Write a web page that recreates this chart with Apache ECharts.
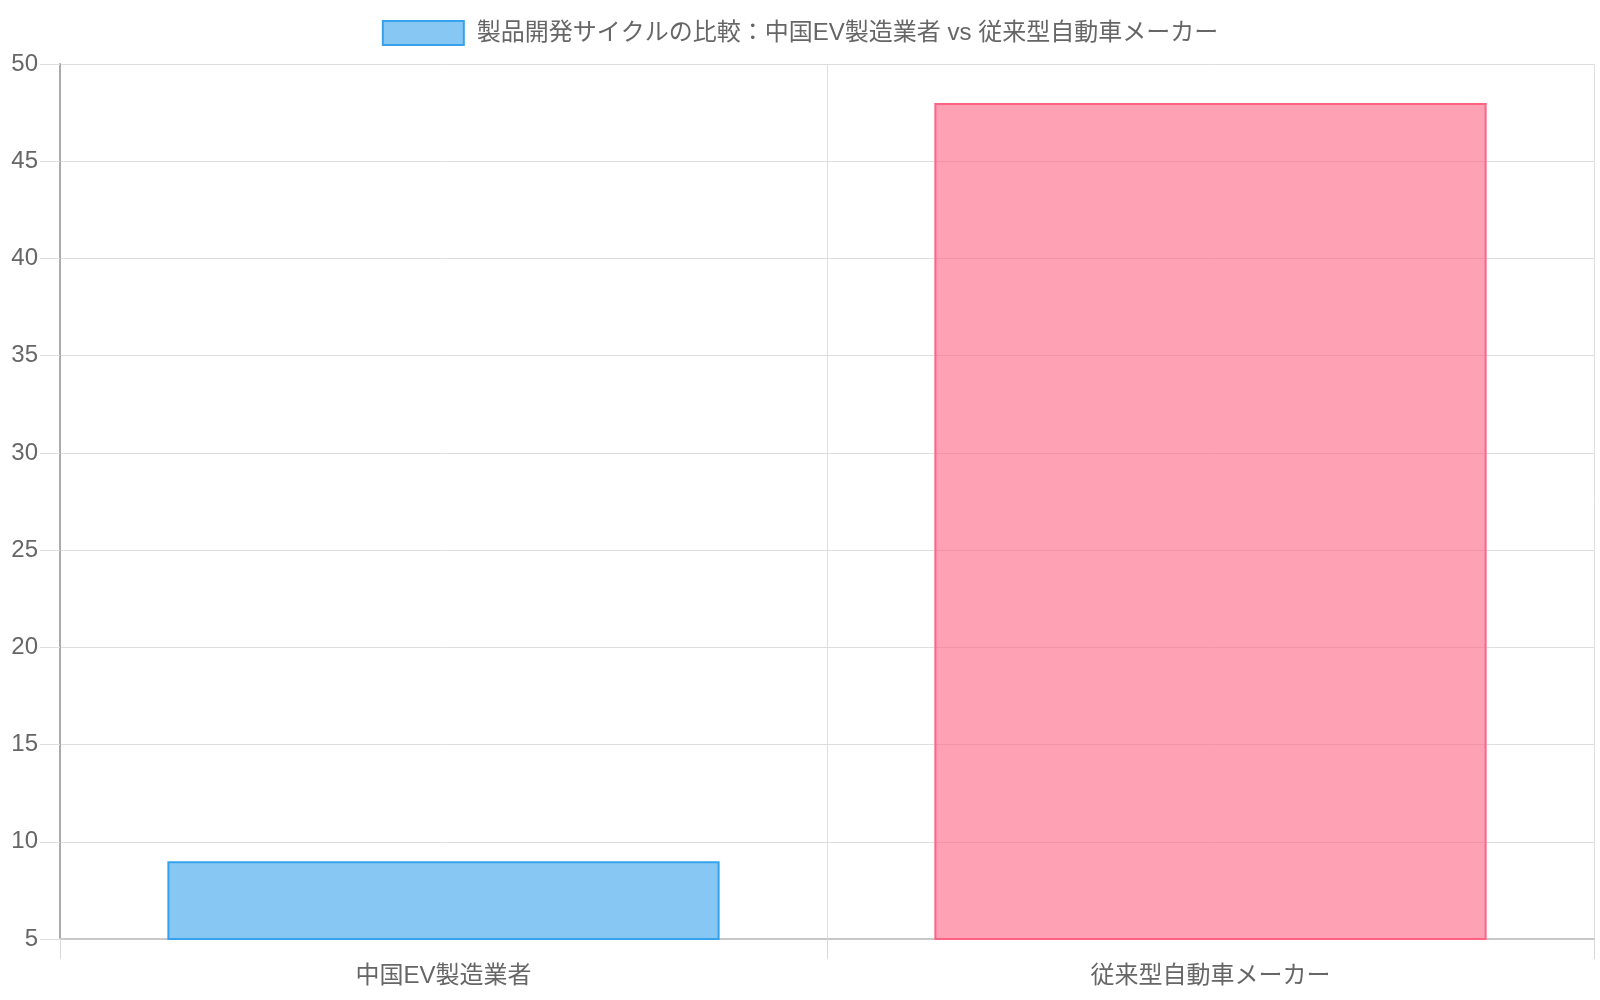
<!DOCTYPE html>
<html>
<head>
<meta charset="utf-8">
<script src="https://cdn.jsdelivr.net/npm/echarts@6/dist/echarts.min.js"></script>
<style>
    html, body { margin: 0; padding: 0; background: #fff; }
    #chart { width: 1600px; height: 1000px; }
</style>
</head>
<body>
<div id="chart"></div>
<script>
var seriesName = '製品開発サイクルの比較：中国EV製造業者 vs 従来型自動車メーカー';
var categories = ['中国EV製造業者', '従来型自動車メーカー'];
var values = [9, 48];
var yTicks = { min: 5, max: 50, step: 5 };

var fillColors = ['rgba(54,162,235,0.6)', 'rgba(255,99,132,0.6)'];
var lineColors = ['#36a2eb', '#ff6384'];
var font = '"Liberation Sans", "Noto Sans CJK JP", sans-serif';

var chart = echarts.init(document.getElementById('chart'));

// 棒ごとに色を変える
var barData = values.map(function(v, i) {
    return {
        value: v,
        itemStyle: { color: fillColors[i], borderColor: lineColors[i], borderWidth: 2 }
    };
});

chart.setOption({
    animation: false,
    textStyle: { fontFamily: font },
    legend: {
        top: 15,
        left: 'center',
        icon: 'rect',
        itemWidth: 81,
        itemHeight: 24,
        textStyle: { fontSize: 24, color: '#666', fontFamily: font, padding: [0, 0, 0, 8] },
        data: [{
            name: seriesName,
            itemStyle: { color: fillColors[0], borderColor: lineColors[0], borderWidth: 2 }
        }]
    },
    grid: { left: 60, right: 6, top: 64, bottom: 61, containLabel: false },
    xAxis: {
        type: 'category',
        data: categories,
        axisLine: { lineStyle: { color: '#c8c8c8', width: 2 } },
        axisTick: { show: true, length: 20, lineStyle: { color: '#d8d8d8', width: 1 } },
        splitLine: { show: true, lineStyle: { color: '#dedede', width: 1 } },
        axisLabel: { fontSize: 24, color: '#666', margin: 25, fontFamily: font }
    },
    yAxis: {
        type: 'value',
        min: yTicks.min,
        max: yTicks.max,
        interval: yTicks.step,
        axisLine: { show: true, lineStyle: { color: '#aaaaaa', width: 2 } },
        axisTick: { show: true, length: 20, lineStyle: { color: '#dedede' } },
        splitLine: { lineStyle: { color: '#dedede', width: 1 } },
        axisLabel: { fontSize: 24, color: '#666', margin: 22, fontFamily: font }
    },
    series: [{
        name: seriesName,
        type: 'bar',
        barWidth: '72%',
        itemStyle: { color: fillColors[0], borderColor: lineColors[0], borderWidth: 2 },
        data: barData
    }]
});
</script>
</body>
</html>
